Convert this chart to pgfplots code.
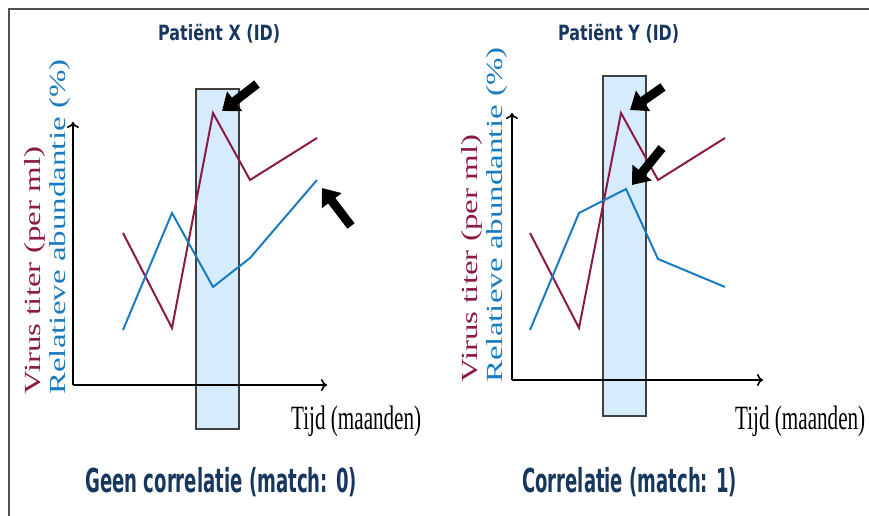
\documentclass[border=0pt]{standalone}
\usepackage{pgfplots}
\pgfplotsset{compat=1.18}
\usepackage{graphicx}
\usepackage{fontspec}
\usetikzlibrary{arrows.meta}
\setmainfont{Liberation Serif}
\newfontfamily\titlefont{DejaVu Sans}
\definecolor{vred}{HTML}{8B1A46}
\definecolor{vblue}{HTML}{1A7BC0}
\definecolor{navy}{HTML}{17375E}
\definecolor{boxfill}{HTML}{D6ECFC}
\definecolor{boxline}{HTML}{404040}
\definecolor{frame}{HTML}{505050}
\pgfplotsset{
  panel/.style={
    x=1pt, y=1pt, xmin=0, ymin=0,
    enlargelimits=false,
    axis lines=left, ticks=none, clip=false, axis on top,
    axis line style={line width=2pt, -{To[length=6pt,width=12pt,line width=1.6pt]}},
    anchor=south west,
  },
}
\newcommand{\annarrow}[2]{\draw[line width=9pt, -{Triangle[length=16pt,width=24pt]}] (axis cs:#1) -- (axis cs:#2);}
\begin{document}
\begin{tikzpicture}[x=1pt,y=1pt]
\useasboundingbox (0,0) rectangle (869,516);
\draw[line width=1.5pt, draw=frame] (9,0) -- (9,507) -- (869,507);

% ---------- Left panel ----------
\begin{axis}[panel, at={(73,131)}, xmax=254, ymax=263]
  \draw[fill=boxfill, draw=boxline, line width=1.2pt] (axis cs:123,-44) rectangle (axis cs:166,296);
  \addplot[vred, line width=2pt] coordinates {(50,152) (99,57) (140,272) (177,205) (244,247)};
  \addplot[vblue, line width=2pt] coordinates {(50,55) (99,172) (140,98) (177,127) (244,205)};
  \annarrow{184,301}{149,274}
  \annarrow{278,159}{249,197}
\end{axis}

% ---------- Right panel ----------
\begin{axis}[panel, at={(512,136)}, xmax=251, ymax=267]
  \draw[fill=boxfill, draw=boxline, line width=1.2pt] (axis cs:91,-36) rectangle (axis cs:134,304);
  \addplot[vred, line width=2pt] coordinates {(18,147) (67,52) (109,267) (146,200) (213,242)};
  \addplot[vblue, line width=2pt] coordinates {(18,50) (67,167) (114,191) (146,121) (213,93)};
  \annarrow{151,293}{118,270}
  \annarrow{150,232}{120,195}
\end{axis}

% ---------- Texts ----------
\node[anchor=base west, inner sep=0, text=navy] at (158,475) {\resizebox{122pt}{\height}{\titlefont\bfseries\fontsize{21}{22}\selectfont Patiënt X (ID)}};
\node[anchor=base west, inner sep=0, text=navy] at (558,475) {\resizebox{121pt}{\height}{\titlefont\bfseries\fontsize{21}{22}\selectfont Patiënt Y (ID)}};

\node[anchor=base west, inner sep=0, text=navy] at (85,23) {\resizebox{272pt}{\height}{\titlefont\bfseries\fontsize{33}{35}\selectfont Geen correlatie (match: 0)}};
\node[anchor=base west, inner sep=0, text=navy] at (522,23) {\resizebox{215pt}{\height}{\titlefont\bfseries\fontsize{33}{35}\selectfont Correlatie (match: 1)}};

\node[anchor=base west, inner sep=0] at (291,86) {\resizebox{130pt}{\height}{\fontsize{34}{36}\selectfont Tijd (maanden)}};
\node[anchor=base west, inner sep=0] at (735,86) {\resizebox{130pt}{\height}{\fontsize{34}{36}\selectfont Tijd (maanden)}};

\node[rotate=90, anchor=base west, inner sep=0, text=vred] at (40,121) {\scalebox{1}[0.7]{\fontsize{33}{36}\selectfont Virus titer (per ml)}};
\node[rotate=90, anchor=base west, inner sep=0, text=vblue] at (65,121) {\scalebox{1}[0.7]{\fontsize{33}{36}\selectfont Relatieve abundantie (\%)}};
\node[rotate=90, anchor=base west, inner sep=0, text=vred] at (477,133) {\scalebox{1}[0.7]{\fontsize{33}{36}\selectfont Virus titer (per ml)}};
\node[rotate=90, anchor=base west, inner sep=0, text=vblue] at (502,133) {\scalebox{1}[0.7]{\fontsize{33}{36}\selectfont Relatieve abundantie (\%)}};
\end{tikzpicture}
\end{document}
